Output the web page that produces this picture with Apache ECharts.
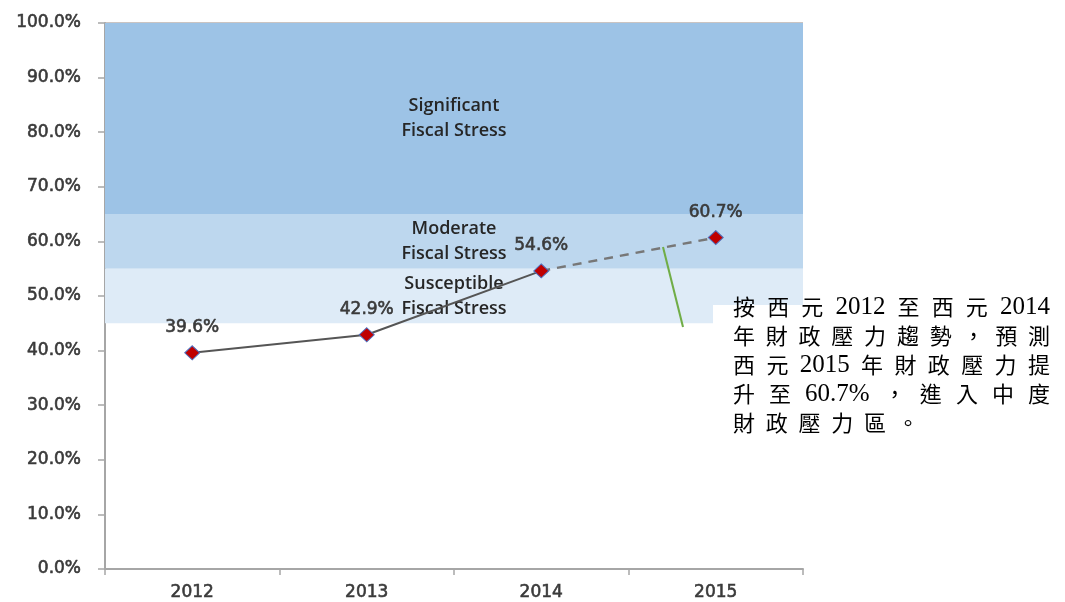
<!DOCTYPE html>
<html>
<head>
<meta charset="utf-8">
<script src="https://cdn.jsdelivr.net/npm/echarts@6/dist/echarts.min.js"></script>
<style>html,body{margin:0;padding:0;background:#fff}#c{width:1065px;height:602px}</style>
</head>
<body>
<div id="c"></div>
<script>
// ---- data ----
const years = ['2012', '2013', '2014', '2015'];
const actualValues = [39.6, 42.9, 54.6, null];
const forecastValues = [null, null, 54.6, 60.7];
const yTicks = [0, 10, 20, 30, 40, 50, 60, 70, 80, 90, 100];
const bandNames = ['Significant\nFiscal Stress', 'Moderate\nFiscal Stress', 'Susceptible\nFiscal Stress'];
const bandLow = [65, 55, 45];
const bandHigh = [100, 65, 55];
const bandColors = ['#9DC3E6', '#BDD7EE', '#DEEBF7'];
const noteLines = [
  '按西元2012至西元2014',
  '年財政壓力趨勢，預測',
  '西元2015年財政壓力提',
  '升至60.7%，進入中度',
  '財政壓力區。'
];

const chart = echarts.init(document.getElementById('c'), null, {renderer: 'canvas'});

const labelFont = {fontFamily: 'DejaVu Sans', fontSize: 17, fontWeight: 'normal', color: '#3a3a3a',
                   textBorderColor: '#3a3a3a', textBorderWidth: 0.6};

const markAreaData = bandNames.map((n, i) => [
  {yAxis: bandLow[i], name: n, itemStyle: {color: bandColors[i]},
   label: {show: true, position: 'inside', formatter: n, color: '#262626',
           fontFamily: 'Open Sans', fontSize: 18, fontWeight: 600, lineHeight: 25}},
  {yAxis: bandHigh[i]}
]);

// ---- annotation text layout (justified lines) ----
const measureCtx = document.createElement('canvas').getContext('2d');
const cjkSize = 22, latinSize = 25;
const cjkFamily = 'Noto Sans CJK TC', latinFamily = 'Liberation Serif';
function tokens(line) {
  const out = [];
  let buf = '';
  for (const ch of line) {
    if (/[0-9.%]/.test(ch)) { buf += ch; }
    else { if (buf) { out.push({t: buf, latin: true}); buf = ''; } out.push({t: ch, latin: false}); }
  }
  if (buf) out.push({t: buf, latin: true});
  out.forEach(o => {
    measureCtx.font = o.latin ? latinSize + 'px "' + latinFamily + '"' : cjkSize + 'px "' + cjkFamily + '"';
    o.w = measureCtx.measureText(o.t).width;
  });
  return out;
}
const boxLeft = 733, boxRight = 1050, lineTop = 307, lineStep = 29;
const noteGraphics = [];
let lastGap = 10;
noteLines.forEach((line, li) => {
  const tk = tokens(line);
  const total = tk.reduce((s, o) => s + o.w, 0);
  let gap = li < noteLines.length - 1 ? (boxRight - boxLeft - total) / (tk.length - 1) : lastGap;
  if (li === 1) lastGap = gap;
  let x = boxLeft;
  tk.forEach(o => {
    noteGraphics.push({
      type: 'text', x: x, y: lineTop + li * lineStep, z: 20,
      style: {text: o.t, fill: '#000', fontSize: o.latin ? latinSize : cjkSize,
              fontFamily: o.latin ? latinFamily : cjkFamily, verticalAlign: 'middle', align: 'left'}
    });
    x += o.w + gap;
  });
});

const dataLabel = {show: true, position: 'top', distance: 9, formatter: p => p.value.toFixed(1) + '%',
                   fontFamily: 'DejaVu Sans', fontSize: 17, color: '#3a3a3a',
                   textBorderColor: '#3a3a3a', textBorderWidth: 0.6};

const option = {
  backgroundColor: '#ffffff',
  animation: false,
  grid: {left: 105, right: 262, top: 23, bottom: 33, containLabel: false},
  xAxis: {
    type: 'category',
    data: years,
    boundaryGap: true,
    axisLine: {lineStyle: {color: '#a6a6a6', width: 2}},
    axisTick: {show: true, length: 6, lineStyle: {color: '#a6a6a6', width: 1.5}},
    axisLabel: Object.assign({margin: 15}, labelFont),
    splitLine: {show: false}
  },
  yAxis: {
    type: 'value',
    min: yTicks[0], max: yTicks[yTicks.length - 1], interval: 10,
    axisLine: {show: true, lineStyle: {color: '#a6a6a6', width: 2}},
    axisTick: {show: true, length: 7, lineStyle: {color: '#a6a6a6', width: 1.5}},
    axisLabel: Object.assign({margin: 24, formatter: v => v.toFixed(1) + '%'}, labelFont),
    splitLine: {show: true, lineStyle: {color: ['transparent','transparent','transparent','transparent','transparent','transparent','transparent','transparent','transparent','transparent','#b8b0ae'], width: 1.5}}
  },
  series: [
    {
      type: 'line', name: 'bands', data: [], z: 1, silent: true,
      markArea: {silent: true, data: markAreaData}
    },
    {
      type: 'line', name: 'actual', z: 5,
      lineStyle: {color: '#555555', width: 2},
      symbol: 'diamond', symbolSize: [15, 14],
      itemStyle: {color: '#C00000', borderColor: '#4F6FBD', borderWidth: 1},
      label: dataLabel,
      labelLayout: {hideOverlap: false},
      data: actualValues.map((v, i) => i === 2 ? {value: v, label: {offset: [28, 2]}} : (i === 1 ? {value: v, label: {offset: [-4, 0]}} : v))
    },
    {
      type: 'line', name: 'forecast', z: 4,
      lineStyle: {color: '#777777', width: 2.5, type: [9, 7]},
      symbol: 'diamond', symbolSize: [15, 14],
      itemStyle: {color: '#C00000', borderColor: '#4F6FBD', borderWidth: 1},
      label: dataLabel,
      data: forecastValues.map((v, i) => i === 2 ? {value: v, symbol: 'none', label: {show: false}} : v)
    }
  ],
  graphic: [
    {type: 'rect', shape: {x: 713, y: 305, width: 352, height: 150}, style: {fill: '#ffffff'}, z: 10},
    {type: 'line', shape: {x1: 663, y1: 247, x2: 683, y2: 327}, style: {stroke: '#70AD47', lineWidth: 2}, z: 11}
  ].concat(noteGraphics)
};
chart.setOption(option);
</script>
</body>
</html>
